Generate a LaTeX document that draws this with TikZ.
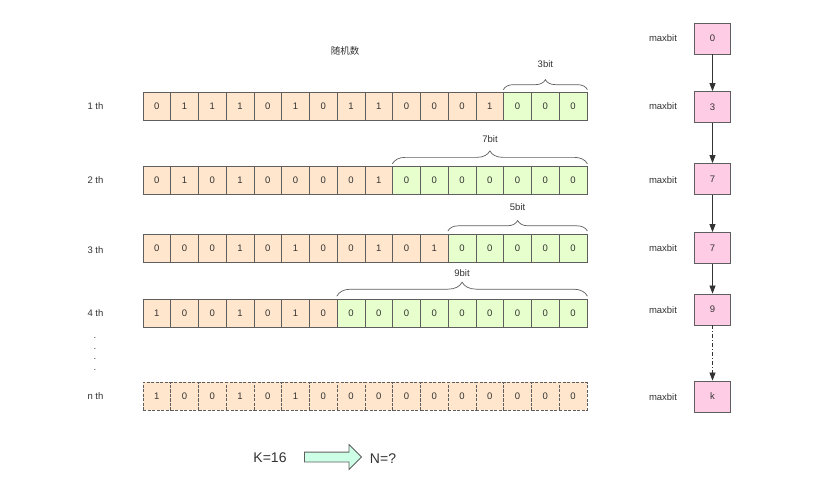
\documentclass[tikz,border=0pt]{standalone}
\usepackage{fontspec}
\setmainfont{Liberation Sans}
\newfontfamily\cjk{Noto Sans CJK SC}
\usetikzlibrary{arrows.meta,shapes.arrows,decorations.pathreplacing,calc}
\definecolor{cO}{HTML}{FFE6CC}
\definecolor{cG}{HTML}{E6FFCC}
\definecolor{cP}{HTML}{FFCCE6}
\definecolor{cM}{HTML}{CCFFE6}
\definecolor{ln}{HTML}{5E5E5E}
\definecolor{tx}{HTML}{333333}
\begin{document}
\begin{tikzpicture}[x=1pt,y=-1pt,
  cell/.style={draw=ln, line width=0.8pt, minimum width=27.75pt, minimum height=27.5pt, inner sep=0pt, font=\fontsize{9.5}{10}\selectfont, text=tx},
  cellO/.style={cell, fill=cO},
  cellG/.style={cell, fill=cG},
  cellN/.style={cell, fill=cO, dash pattern=on 3pt off 1.5pt},
  lbl/.style={font=\fontsize{9.5}{11}\selectfont, text=tx, inner sep=0pt},
  maxbox/.style={draw=ln, line width=0.8pt, fill=cP, minimum width=36pt, minimum height=31pt, inner sep=0pt, font=\fontsize{9.5}{10}\selectfont, text=tx},
  link/.style={draw=tx, line width=0.7pt, -{Triangle[width=6pt,length=8pt]}},
  bracestyle/.style={draw=ln, line width=0.7pt, decorate, decoration={brace, amplitude=#1}},
]
\useasboundingbox (0,0) rectangle (831,496);

% title
\node[lbl] (title) at (345,50.5) {\cjk 随机数};

% rows 1-4
\foreach \r/\yc/\k/\bits in {
  1/106.3/13/{0,1,1,1,0,1,0,1,1,0,0,0,1,0,0,0},
  2/180.5/9/{0,1,0,1,0,0,0,0,1,0,0,0,0,0,0,0},
  3/248.2/11/{0,0,0,1,0,1,0,0,1,0,1,0,0,0,0,0},
  4/313.3/7/{1,0,0,1,0,1,0,0,0,0,0,0,0,0,0,0}}{
  \foreach \b [count=\i] in \bits {
    \pgfmathsetmacro\xc{143+27.75*(\i-0.5)}
    \ifnum\i>\k\relax
      \node[cellG] (r\r c\i) at (\xc,\yc) {\b};
    \else
      \node[cellO] (r\r c\i) at (\xc,\yc) {\b};
    \fi
  }
}
% row n
\foreach \b [count=\i] in {1,0,0,1,0,1,0,0,0,0,0,0,0,0,0,0} {
  \pgfmathsetmacro\xc{143+27.75*(\i-0.5)}
  \node[cellN] (rnc\i) at (\xc,396.2) {\b};
}

% row labels
\node[lbl] (l1) at (95.5,106.3) {1 th};
\node[lbl] (l2) at (95.5,180) {2 th};
\node[lbl] (l3) at (95.5,250) {3 th};
\node[lbl] (l4) at (95.5,313.3) {4 th};
\node[lbl] (ln) at (95.5,396.5) {n th};
\node[lbl, align=center, font=\fontsize{9.5}{10.9}\selectfont] (dots) at (95,354) {.\\.\\.\\.};

% braces
\draw[bracestyle=10pt] ($(r1c14.north west)+(0,-2.5)$) -- ($(r1c16.north east)+(0,-2.5)$);
\draw[bracestyle=13pt] ($(r2c10.north west)+(0,-2.5)$) -- ($(r2c16.north east)+(0,-2.5)$);
\draw[bracestyle=10.5pt] ($(r3c12.north west)+(0,-3)$) -- ($(r3c16.north east)+(0,-3)$);
\draw[bracestyle=14pt] ($(r4c8.north west)+(0,-3)$) -- ($(r4c16.north east)+(0,-3)$);
\node[lbl] (b1) at (545.4,64) {3bit};
\node[lbl] (b2) at (490,139) {7bit};
\node[lbl] (b3) at (517.6,207) {5bit};
\node[lbl] (b4) at (462,273) {9bit};

% maxbit column
\node[maxbox] (m0) at (712.5,38.5) {0};
\node[maxbox] (m1) at (712.5,107) {3};
\node[maxbox] (m2) at (712.5,179) {7};
\node[maxbox] (m3) at (712.5,248) {7};
\node[maxbox] (m4) at (712.5,309.5) {9};
\node[maxbox] (mk) at (712.5,396.5) {k};
\foreach \n/\y in {a/38.5,b/106.5,c/180,d/248,e/310.5,f/397}
  \node[lbl] (mb\n) at (663,\y) {maxbit};
\draw[link] (m0) -- (m1);
\draw[link] (m1) -- (m2);
\draw[link] (m2) -- (m3);
\draw[link] (m3) -- (m4);
\draw[link, dash pattern=on 4pt off 2pt on 1pt off 2pt] (m4) -- (mk);

% bottom
\node[font=\fontsize{14}{16}\selectfont, text=tx, inner sep=0pt] (K) at (270,458) {K=16};
\node[single arrow, draw=ln, fill=cM, line width=0.8pt, minimum height=57pt, minimum width=24pt,
      single arrow head extend=7.5pt, single arrow head indent=0pt, inner xsep=0pt, inner ysep=4.5pt] (arr) at (330.5,457) {};
\node[font=\fontsize{14}{16}\selectfont, text=tx, inner sep=0pt] (N) at (383,459) {N=?};
\end{tikzpicture}
\end{document}
